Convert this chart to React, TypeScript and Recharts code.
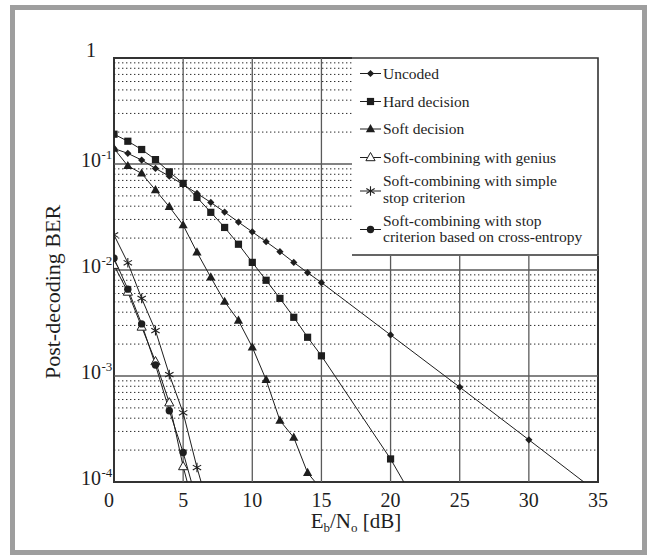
import React from "react";
import { LineChart, Line, XAxis, YAxis, ReferenceLine, ReferenceArea, Legend } from "recharts";

// Eb/No [dB] and post-decoding BER
const uncodedSnr = [0, 1, 2, 3, 4, 5, 6, 7, 8, 9, 10, 11, 12, 13, 14, 15, 20, 25, 30, 35];
const uncodedBer = [0.14, 0.126, 0.109, 0.0908, 0.0768, 0.0641, 0.0528, 0.0434, 0.0352, 0.0283, 0.0229, 0.0185, 0.0149, 0.0118, 0.00944, 0.0076, 0.00244, 0.000785, 0.00025, 0.000079];

const hardSnr = [0, 1, 2, 3, 4, 5, 6, 7, 8, 9, 10, 11, 12, 13, 14, 15, 20, 25];
const hardBer = [0.191, 0.164, 0.137, 0.11, 0.0843, 0.0656, 0.0484, 0.035, 0.0252, 0.0175, 0.0118, 0.008, 0.0054, 0.00358, 0.00232, 0.00155, 0.000165, 0.000012];

const softSnr = [0, 1, 2, 3, 4, 5, 6, 7, 8, 9, 10, 11, 12, 13, 14, 15];
const softBer = [0.14, 0.096, 0.0815, 0.0567, 0.0395, 0.0265, 0.0147, 0.00853, 0.00503, 0.00333, 0.00187, 0.00092, 0.00038, 0.000263, 0.000122, 0.000085];

const geniusSnr = [0, 1, 2, 3, 4, 5, 6];
const geniusBer = [0.0111, 0.0062, 0.0029, 0.00137, 0.00056, 0.00014, 0.000045];

const simpleSnr = [0, 1, 2, 3, 4, 5, 6, 7];
const simpleBer = [0.0214, 0.0117, 0.0054, 0.00268, 0.00103, 0.00045, 0.000137, 0.000048];

const entropySnr = [0, 1, 2, 3, 4, 5, 6];
const entropyBer = [0.0129, 0.0066, 0.0031, 0.00127, 0.00047, 0.00019, 0.000065];

const xTicks = [0, 5, 10, 15, 20, 25, 30, 35];
const xGrid = [5, 10, 15, 20, 25, 30];
const yTicks = [0.0001, 0.001, 0.01, 0.1, 1];
const yDecadeGrid = [0.001, 0.01, 0.1];
const decades = [0.0001, 0.001, 0.01, 0.1];
const minorSteps = [2, 3, 4, 5, 6, 7, 8, 9];
const yMinorGrid = decades.flatMap((d) => minorSteps.map((m) => m * d));

const zip = (xs: number[], ys: number[]) => xs.map((snr, i) => ({ snr, ber: ys[i] }));

const FONT = "'Liberation Serif', 'Times New Roman', serif";
const INK = "#1e1e1e";
const PLOT_LEFT = 114;

type Shape = "diamond" | "square" | "triangle" | "openTriangle" | "asterisk" | "circle";

function Marker({ shape, cx, cy }: { shape: Shape; cx: number; cy: number }) {
  if (cx == null || cy == null || isNaN(cx) || isNaN(cy)) return null;
  switch (shape) {
    case "diamond":
      return <path d={`M${cx},${cy - 3.6}L${cx + 3.6},${cy}L${cx},${cy + 3.6}L${cx - 3.6},${cy}Z`} fill={INK} />;
    case "square":
      return <rect x={cx - 3.6} y={cy - 3.6} width={7.2} height={7.2} fill={INK} />;
    case "triangle":
      return <path d={`M${cx},${cy - 5}L${cx + 4.6},${cy + 3.2}L${cx - 4.6},${cy + 3.2}Z`} fill={INK} />;
    case "openTriangle":
      return <path d={`M${cx},${cy - 5}L${cx + 4.6},${cy + 3.2}L${cx - 4.6},${cy + 3.2}Z`} fill="#fff" stroke={INK} strokeWidth={1} />;
    case "asterisk":
      return (
        <path
          d={`M${cx},${cy - 4.8}L${cx},${cy + 4.8}M${cx - 4.2},${cy - 2.4}L${cx + 4.2},${cy + 2.4}M${cx - 4.2},${cy + 2.4}L${cx + 4.2},${cy - 2.4}`}
          stroke={INK}
          strokeWidth={1.1}
          fill="none"
        />
      );
    default:
      return <circle cx={cx} cy={cy} r={3.7} fill={INK} />;
  }
}

const dotOf = (shape: Shape) => (props: any) => (
  <Marker key={`${shape}-${props.index}`} shape={shape} cx={props.cx} cy={props.cy} />
);

const series: { name: string[]; shape: Shape; data: { snr: number; ber: number }[] }[] = [
  { name: ["Uncoded"], shape: "diamond", data: zip(uncodedSnr, uncodedBer) },
  { name: ["Hard decision"], shape: "square", data: zip(hardSnr, hardBer) },
  { name: ["Soft decision"], shape: "triangle", data: zip(softSnr, softBer) },
  { name: ["Soft-combining with genius"], shape: "openTriangle", data: zip(geniusSnr, geniusBer) },
  { name: ["Soft-combining with simple", "stop criterion"], shape: "asterisk", data: zip(simpleSnr, simpleBer) },
  { name: ["Soft-combining with stop", "criterion based on cross-entropy"], shape: "circle", data: zip(entropySnr, entropyBer) },
];

// legend rows: icon centre and text baselines, relative to the legend box
const legendRows = [
  { icon: 16.5, lines: [21.5] },
  { icon: 44.5, lines: [49.5] },
  { icon: 72, lines: [77] },
  { icon: 100.5, lines: [105.5] },
  { icon: 134, lines: [129, 145.5] },
  { icon: 172.5, lines: [168.5, 185] },
];

function LegendBox() {
  return (
    <svg width={247} height={199} style={{ display: "block" }}>
      <rect x={0} y={0} width={247} height={199} fill="#fff" />
      <path d="M0,1H246V198H0" fill="none" stroke="#333" strokeWidth={1.6} />
      {series.map((s, i) => {
        const row = legendRows[i];
        return (
          <g key={i}>
            <line x1={8} x2={29} y1={row.icon} y2={row.icon} stroke={INK} strokeWidth={1} />
            <Marker shape={s.shape} cx={18.5} cy={row.icon} />
            {s.name.map((t, j) => (
              <text key={j} x={31} y={row.lines[j]} fontFamily={FONT} fontSize={15.5} fill={INK}>
                {t}
              </text>
            ))}
          </g>
        );
      })}
    </svg>
  );
}

function XTick(props: any) {
  const { x, payload } = props;
  const shift = payload.value === 0 ? -5 : 0;
  return (
    <text x={x + shift} y={507} textAnchor="middle" fontFamily={FONT} fontSize={20} fill={INK}>
      {payload.value}
    </text>
  );
}

function YTick(props: any) {
  const { y, payload } = props;
  const v = payload.value;
  if (v === 1) {
    return (
      <text x={PLOT_LEFT - 23} y={y - 1} textAnchor="middle" fontFamily={FONT} fontSize={20} fill={INK}>
        1
      </text>
    );
  }
  const exp = Math.round(Math.log10(v));
  return (
    <g>
      <text x={PLOT_LEFT - 13} y={y + 3} textAnchor="end" fontFamily={FONT} fontSize={20} fill={INK}>
        10
      </text>
      <text x={PLOT_LEFT - 12.5} y={y - 5} fontFamily={FONT} fontSize={13} fill={INK}>
        {`${exp}`}
      </text>
    </g>
  );
}

const xLabel = () => (
  <text x={356} y={528} textAnchor="middle" fontFamily={FONT} fontSize={21} fill={INK}>
    E<tspan fontSize={13} dy={4}>b</tspan>
    <tspan dy={-4}>/N</tspan>
    <tspan fontSize={13} dy={4}>o</tspan>
    <tspan dy={-4}> [dB]</tspan>
  </text>
);

const yLabel = () => (
  <text
    x={52}
    y={292}
    transform="rotate(-90, 52, 292)"
    textAnchor="middle"
    dominantBaseline="central"
    fontFamily={FONT}
    fontSize={22}
    fill={INK}
  >
    Post-decoding BER
  </text>
);

export default function App() {
  return (
    <div style={{ position: "absolute", left: 0, top: 0, width: 647, height: 555, background: "#fff" }}>
      <div
        style={{
          position: "absolute",
          left: 10,
          top: 5,
          width: 637,
          height: 550,
          boxSizing: "border-box",
          border: "5px solid #9e9e9e",
        }}
      />
      <div style={{ position: "absolute", left: 0, top: 0 }}>
        <LineChart width={647} height={555} margin={{ top: 58, right: 49, bottom: 33, left: 54 }}>
          <XAxis
            type="number"
            dataKey="snr"
            domain={[0, 35]}
            ticks={xTicks}
            interval={0}
            allowDataOverflow
            axisLine={false}
            tickLine={false}
            height={40}
            tick={<XTick />}
            label={xLabel}
          />
          <YAxis
            type="number"
            dataKey="ber"
            scale="log"
            domain={[0.0001, 1]}
            ticks={yTicks}
            interval={0}
            allowDataOverflow
            axisLine={false}
            tickLine={false}
            width={60}
            tick={<YTick />}
            label={yLabel}
          />
          {yMinorGrid.map((v) => (
            <ReferenceLine key={`m${v}`} y={v} stroke="#2a2a2a" strokeWidth={1} strokeDasharray="1.4 2.6" />
          ))}
          {yDecadeGrid.map((v) => (
            <ReferenceLine key={`d${v}`} y={v} stroke="#5a5a5a" strokeWidth={1.4} />
          ))}
          {xGrid.map((v) => (
            <ReferenceLine key={`x${v}`} x={v} stroke="#5a5a5a" strokeWidth={1.3} />
          ))}
          <ReferenceArea x1={0} x2={35} y1={0.0001} y2={1} fill="none" stroke="#333" strokeWidth={2} />
          {series.map((s) => (
            <Line
              key={s.shape}
              data={s.data}
              dataKey="ber"
              stroke={INK}
              strokeWidth={1}
              dot={dotOf(s.shape)}
              activeDot={false}
              isAnimationActive={false}
            />
          ))}
          <Legend
            layout="horizontal"
            verticalAlign="middle"
            align="center"
            content={() => <LegendBox />}
            wrapperStyle={{ position: "absolute", left: 352, top: 57, width: 247, height: 199 }}
          />
        </LineChart>
      </div>
    </div>
  );
}
